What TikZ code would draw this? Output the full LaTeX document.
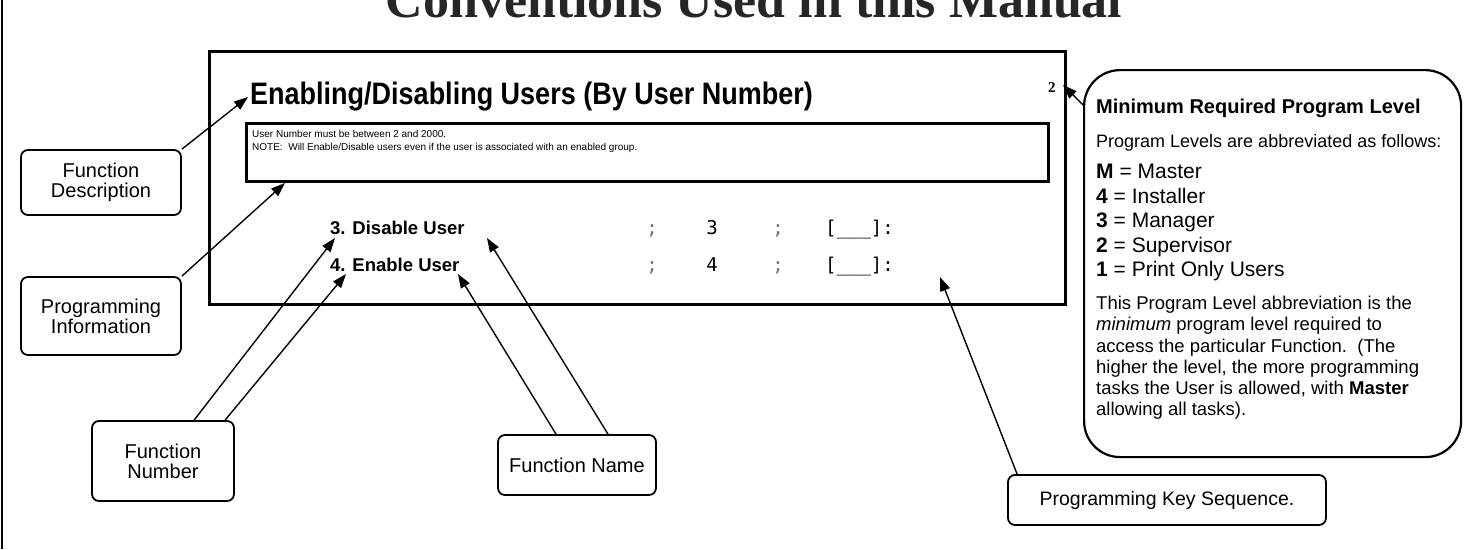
\documentclass[tikz,border=0pt]{standalone}
\usepackage{fontspec}
\usepackage{graphicx}
\setmainfont{Liberation Sans}
\newfontfamily\serifbf{Liberation Serif}
\newfontfamily\keymono{DejaVu Sans Mono}
\usetikzlibrary{arrows.meta}
\newcommand{\fsz}[1]{\fontsize{#1}{#1}\selectfont}
\begin{document}
\begin{tikzpicture}[x=1pt,y=-1pt,
  callout/.style={draw, line width=1.8pt, rounded corners=7pt, align=center, font=\fsz{20}, inner sep=0pt},
  arr/.style={line width=1.4pt, -{Triangle[length=14pt,width=10pt]}},
  txt/.style={anchor=base west, inner sep=0pt},
  keyc/.style={anchor=base, inner sep=0pt, font=\keymono\fsz{19}},
  semi/.style={keyc, text=black!55}]
\useasboundingbox (0,0) rectangle (1470,549);
\fill[white] (0,0) rectangle (1470,549);
\draw[line width=2pt] (2,0) -- (2,549);
\node[anchor=base, inner sep=0pt, font=\serifbf\bfseries\fsz{52}, text=black!85] (top) at (754,17) {Conventions Used in this Manual};
% main sample box
\node[draw, line width=3pt, minimum width=856pt, minimum height=253pt, anchor=north west, inner sep=0pt] (main) at (208,50) {};
\node[txt, font=\bfseries\fsz{27}] (ttl) at (250,104) {\scalebox{1}[1.15]{Enabling/Disabling Users (By User Number)}};
\node[txt, font=\serifbf\bfseries\fsz{15}] (two) at (1048,92) {2};
\node[draw, line width=3pt, minimum width=802pt, minimum height=58pt, anchor=north west, inner sep=0pt] (info) at (245,122) {};
\node[txt, font=\fsz{10}] (n1) at (252,137) {User Number must be between 2 and 2000.};
\node[txt, font=\fsz{10}] (n2) at (252,150) {NOTE:\ \ Will Enable/Disable users even if the user is associated with an enabled group.};
\node[txt, font=\bfseries\fsz{18.5}] (f3) at (330,234) {3. Disable User};
\node[txt, font=\bfseries\fsz{18.5}] (f4) at (330,271) {4. Enable User};
\node[semi] (s1a) at (652,234) {;};
\node[keyc] (k3) at (712,234) {3};
\node[semi] (s1b) at (778,234) {;};
\node[keyc, anchor=base west] (b1) at (825,234) {[\_\_\_]:};
\node[semi] (s2a) at (652,271) {;};
\node[keyc] (k4) at (712,271) {4};
\node[semi] (s2b) at (778,271) {;};
\node[keyc, anchor=base west] (b2) at (825,271) {[\_\_\_]:};
% callouts
\node[callout, minimum width=160pt, minimum height=65pt] (fd) at (101,182.5) {Function\\Description};
\node[callout, minimum width=160pt, minimum height=78pt] (pi) at (101,316) {Programming\\Information};
\node[callout, minimum width=142pt, minimum height=80pt] (fn) at (163,461) {Function\\Number};
\node[callout, minimum width=158pt, minimum height=60pt] (fnm) at (577,465) {Function Name};
\node[callout, minimum width=318pt, minimum height=50pt] (pks) at (1167,500) {\fsz{19.5}Programming Key Sequence.};
% level box
\node[draw, line width=2.2pt, rounded corners=36pt, minimum width=377pt, minimum height=387pt, anchor=north west, inner sep=0pt] (lvl) at (1083,69) {};
\node[txt, font=\bfseries\fsz{20}] (l0) at (1096,113) {Minimum Required Program Level};
\node[txt, font=\fsz{18}] (l1) at (1096,147) {Program Levels are abbreviated as follows:};
\node[txt, font=\fsz{21}] (lm) at (1096,178) {\textbf{M} = Master};
\node[txt, font=\fsz{21}] (l4) at (1096,203) {\textbf{4} = Installer};
\node[txt, font=\fsz{21}] (l3) at (1096,227) {\textbf{3} = Manager};
\node[txt, font=\fsz{21}] (l2) at (1096,252) {\textbf{2} = Supervisor};
\node[txt, font=\fsz{21}] (l1u) at (1096,276) {\textbf{1} = Print Only Users};
\node[txt, font=\fsz{18.5}] (p1) at (1096,309) {This Program Level abbreviation is the};
\node[txt, font=\fsz{18.5}] (p2) at (1096,330) {\textit{minimum} program level required to};
\node[txt, font=\fsz{18.5}] (p3) at (1096,352) {access the particular Function.\ \ (The};
\node[txt, font=\fsz{18.5}] (p4) at (1096,373) {higher the level, the more programming};
\node[txt, font=\fsz{18.5}] (p5) at (1096,394) {tasks the User is allowed, with \textbf{Master}};
\node[txt, font=\fsz{18.5}] (p6) at (1096,415) {allowing all tasks).};
% arrow tips
\coordinate (tE) at (248,97);
\coordinate (tI) at (285,183);
\coordinate (t3) at (335,238);
\coordinate (t4) at (346,274);
\coordinate (tD) at (487,238);
\coordinate (tN) at (458,274);
\coordinate (tK) at (940,277);
\coordinate (t2) at (1063,85);
\draw[arr] (fd.north east) -- (tE);
\draw[arr] (pi.north east) -- (tI);
\draw[arr] ([xshift=103pt]fn.north west) -- (t3);
\draw[arr] ([xshift=134pt]fn.north west) -- (t4);
\draw[arr] ([xshift=31pt]fnm.north) -- (tD);
\draw[arr] ([xshift=-21pt]fnm.north) -- (tN);
\draw[arr] ([xshift=10pt]pks.north west) -- (tK);
\draw[arr] ([yshift=-36pt]lvl.north west) -- (t2);
\end{tikzpicture}
\end{document}
